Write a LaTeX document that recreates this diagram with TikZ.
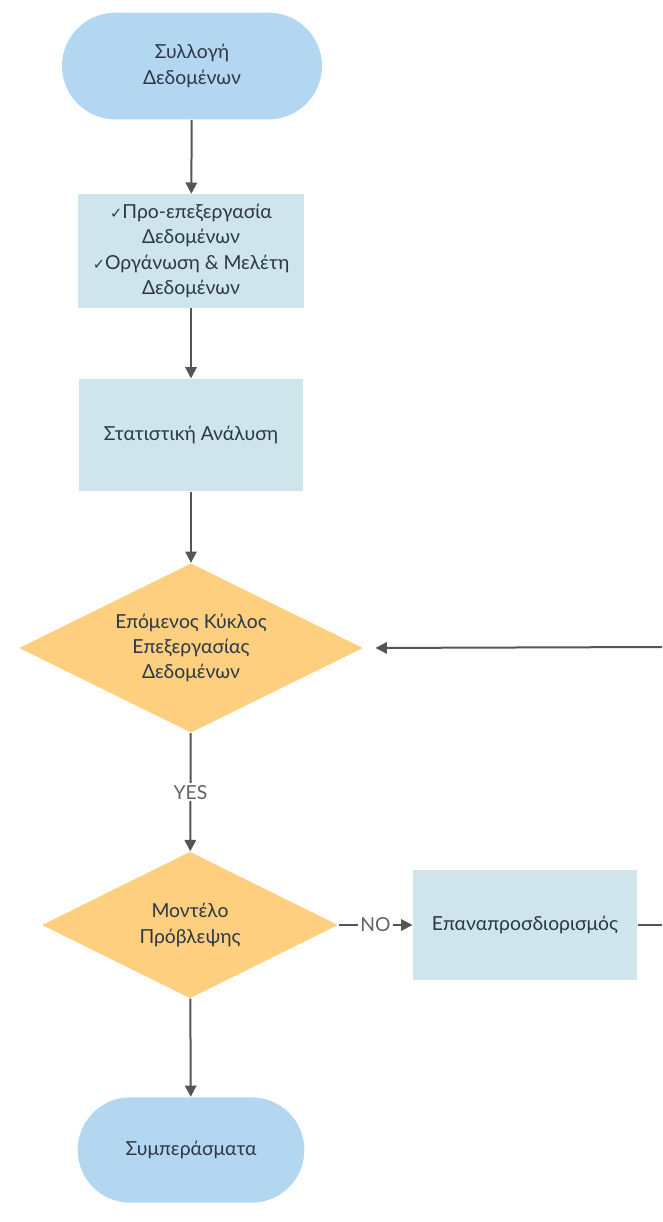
\documentclass[tikz,border=0pt]{standalone}
\usepackage{fontspec}
\setmainfont{Lato}
\newfontfamily\symfont{DejaVu Sans}
\usetikzlibrary{shapes.geometric,shapes.misc,arrows.meta}

\definecolor{termblue}{RGB}{179,215,240}
\definecolor{procblue}{RGB}{205,229,235}
\definecolor{decorange}{RGB}{253,207,126}
\definecolor{txtdark}{RGB}{45,55,72}
\definecolor{linegray}{RGB}{85,85,85}
\definecolor{labelgray}{RGB}{100,100,100}

\tikzset{every picture/.style={line width=0.75pt},
  terminal/.style={rounded rectangle, fill=termblue, inner sep=0pt, align=center, text=txtdark, font=\fontsize{14.5}{19}\selectfont},
  process/.style={rectangle, fill=procblue, inner sep=0pt, align=center, text=txtdark, font=\fontsize{14.5}{19}\selectfont},
  decision/.style={diamond, aspect=2, fill=decorange, inner sep=0pt, align=center, text=txtdark, font=\fontsize{14.5}{19}\selectfont},
  flow/.style={draw=linegray, line width=1.5pt, -{Triangle[length=8.5pt,width=8.5pt]}},
  flowline/.style={draw=linegray, line width=1.5pt},
  answer/.style={fill=white, inner sep=1.5pt, text=labelgray, font=\fontsize{14.5}{16}\selectfont}
}
\newcommand{\tick}{{\symfont\fontsize{11}{11}\selectfont ✓}}

\begin{document}
\begin{tikzpicture}[x=0.75pt,y=0.75pt,yscale=-1,xscale=1]
\useasboundingbox (0,0) rectangle (662,1222);

%Shape: Terminal [start]
\node [terminal, minimum width=195pt, minimum height=80pt] (collect) at (192,66) {Συλλογή\\Δεδομένων};
%Shape: Process [prepare]
\node [process, minimum width=169pt, minimum height=85pt] (prepare) at (191,251) {\tick Προ-επεξεργασία\\Δεδομένων\\\tick Οργάνωση \& Μελέτη\\Δεδομένων};
%Shape: Process [stats]
\node [process, minimum width=168pt, minimum height=84pt] (stats) at (191,435) {Στατιστική Ανάλυση};
%Shape: Decision [next cycle]
\node [decision, minimum width=258pt, minimum height=127pt] (cycle) at (191,648) {Επόμενος Κύκλος\\Επεξεργασίας\\Δεδομένων};
%Shape: Decision [model]
\node [decision, minimum width=222pt, minimum height=110pt] (model) at (190,925) {Μοντέλο\\Πρόβλεψης};
%Shape: Process [redefine]
\node [process, minimum width=168pt, minimum height=83pt] (redefine) at (525,925) {Επαναπροσδιορισμός};
%Shape: Terminal [end]
\node [terminal, minimum width=170pt, minimum height=79pt] (results) at (191,1150) {Συμπεράσματα};

%Loop ends at the picture edge
\coordinate (loopout) at (662,925);
\coordinate (loopin) at (662,647);

%Straight Lines
\draw [flow] (collect) -- (prepare);
\draw [flow] (prepare) -- (stats);
\draw [flow] (stats) -- (cycle);
\draw [flow] (cycle) -- node [answer] {YES} (model);
\draw [flow] (model) -- node [answer] {NO} (redefine);
\draw [flow] (model) -- (results);
\draw [flowline] (redefine) -- (loopout);
\draw [flow, shorten >=9pt] (loopin) -- (cycle.east);

\end{tikzpicture}
\end{document}
